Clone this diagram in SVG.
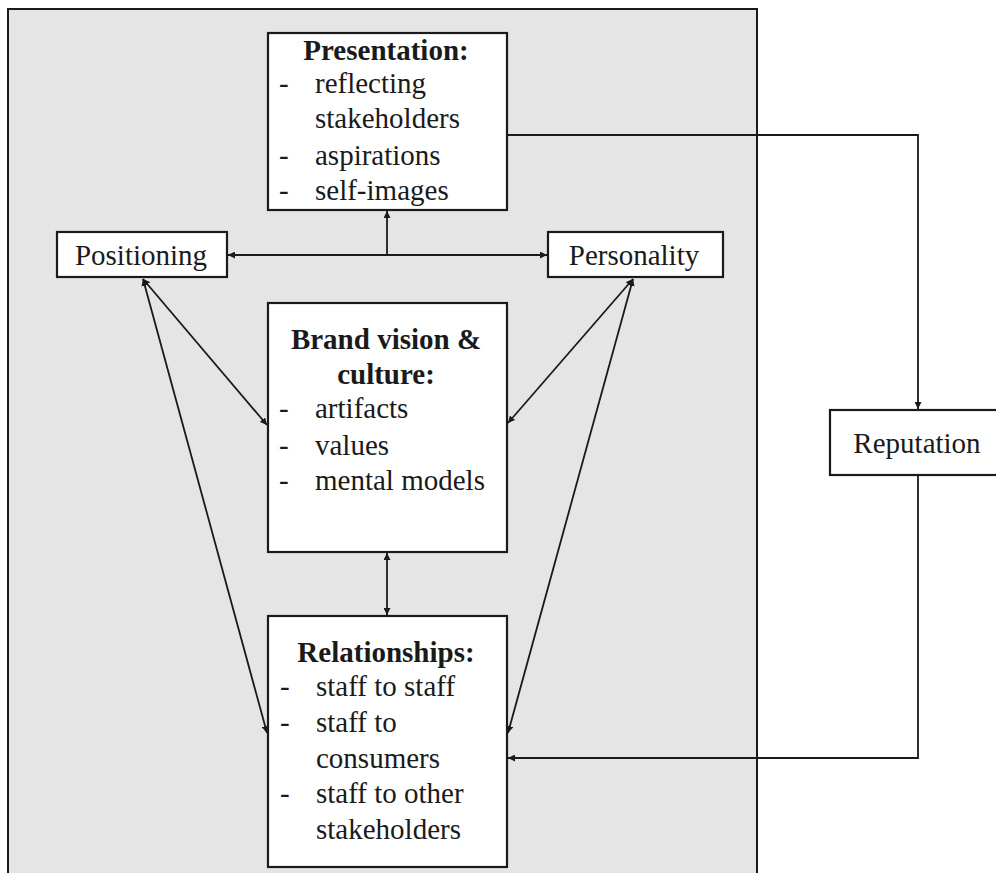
<svg xmlns="http://www.w3.org/2000/svg" width="996" height="873" viewBox="0 0 996 873">
  <style>
    .box { fill: #ffffff; stroke: #1a1a1a; stroke-width: 2.2; }
    .frame { fill: #e5e5e5; stroke: #1a1a1a; stroke-width: 2; }
    .t { font-family: 'Liberation Serif', 'Tinos', 'DejaVu Serif', serif; font-size: 29px; fill: #1a1a1a; }
    .b { font-weight: bold; }
    .c { text-anchor: middle; }
    .ln { fill: none; stroke: #1a1a1a; stroke-width: 1.8; }
  </style>
  <defs>
    <marker id="ah" viewBox="0 0 10 10" refX="10" refY="5" markerWidth="7" markerHeight="7" markerUnits="userSpaceOnUse" orient="auto-start-reverse">
      <path d="M0,0 L10,5 L0,10 Z" fill="#1a1a1a"/>
    </marker>
  </defs>

  <!-- internal brand frame -->
  <rect id="frame" class="frame" x="8" y="9" width="749" height="880"/>

  <!-- connectors -->
  <g id="connectors">
    <!-- Positioning <-> Personality with branch up to Presentation -->
    <line class="ln" x1="228" y1="255" x2="547" y2="255" marker-start="url(#ah)" marker-end="url(#ah)"/>
    <line class="ln" x1="387" y1="255" x2="387" y2="211" marker-end="url(#ah)"/>
    <!-- Positioning diagonals -->
    <line class="ln" x1="143" y1="279" x2="267" y2="425" marker-start="url(#ah)" marker-end="url(#ah)"/>
    <line class="ln" x1="143" y1="279" x2="267" y2="733" marker-start="url(#ah)" marker-end="url(#ah)"/>
    <!-- Personality diagonals -->
    <line class="ln" x1="633" y1="279" x2="508" y2="423" marker-start="url(#ah)" marker-end="url(#ah)"/>
    <line class="ln" x1="633" y1="279" x2="508" y2="733" marker-start="url(#ah)" marker-end="url(#ah)"/>
    <!-- Brand vision <-> Relationships -->
    <line class="ln" x1="387" y1="553" x2="387" y2="615" marker-start="url(#ah)" marker-end="url(#ah)"/>
    <!-- Presentation -> Reputation -> Relationships -->
    <polyline class="ln" points="507,135 918,135 918,409" marker-end="url(#ah)"/>
    <polyline class="ln" points="918,476 918,758 508,758" marker-end="url(#ah)"/>
  </g>

  <g id="presentation">
    <rect class="box" x="268" y="33" width="239" height="177"/>
    <text class="t b c" x="386" y="60">Presentation:</text>
    <text class="t" x="279" y="93">-</text>
    <text class="t" x="315" y="93">reflecting</text>
    <text class="t" x="315" y="128">stakeholders</text>
    <text class="t" x="279" y="165">-</text>
    <text class="t" x="315" y="165">aspirations</text>
    <text class="t" x="279" y="200">-</text>
    <text class="t" x="315" y="200">self-images</text>
  </g>

  <g id="positioning">
    <rect class="box" x="57" y="232" width="170" height="45"/>
    <text class="t c" x="141" y="265">Positioning</text>
  </g>

  <g id="personality">
    <rect class="box" x="548" y="232" width="175" height="45"/>
    <text class="t c" x="634" y="265">Personality</text>
  </g>

  <g id="brand-vision">
    <rect class="box" x="268" y="303" width="239" height="249"/>
    <text class="t b c" x="386" y="349">Brand vision &amp;</text>
    <text class="t b c" x="386" y="384">culture:</text>
    <text class="t" x="279" y="418">-</text>
    <text class="t" x="315" y="418">artifacts</text>
    <text class="t" x="279" y="455">-</text>
    <text class="t" x="315" y="455">values</text>
    <text class="t" x="279" y="490">-</text>
    <text class="t" x="315" y="490">mental models</text>
  </g>

  <g id="relationships">
    <rect class="box" x="268" y="616" width="239" height="251"/>
    <text class="t b c" x="386" y="662">Relationships:</text>
    <text class="t" x="280" y="696">-</text>
    <text class="t" x="316" y="696">staff to staff</text>
    <text class="t" x="280" y="732">-</text>
    <text class="t" x="316" y="732">staff to</text>
    <text class="t" x="316" y="768">consumers</text>
    <text class="t" x="280" y="803">-</text>
    <text class="t" x="316" y="803">staff to other</text>
    <text class="t" x="316" y="839">stakeholders</text>
  </g>

  <g id="reputation">
    <rect class="box" x="830" y="410" width="170" height="65"/>
    <text class="t c" x="917" y="453">Reputation</text>
  </g>
</svg>
